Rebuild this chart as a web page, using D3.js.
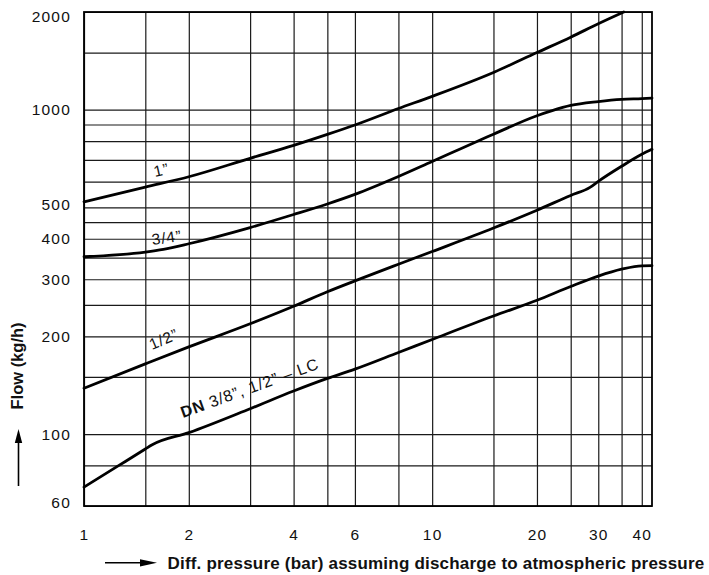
<!DOCTYPE html>
<html>
<head>
<meta charset="utf-8">
<script src="https://cdn.jsdelivr.net/npm/d3@7/dist/d3.min.js"></script>
<style>
  html, body { margin: 0; padding: 0; background: #fff; }
  svg { display: block; }
  text { font-family: "Liberation Sans", Arial, Helvetica, sans-serif; fill: #111; }
</style>
</head>
<body>
<svg id="chart" width="709" height="575"></svg>
<script>
// ---------- data ----------
const xGridValues = [1, 1.5, 2, 3, 4, 5, 6, 8, 10, 15, 20, 25, 30, 35, 40];
const xTickLabels = [1, 2, 4, 6, 10, 20, 30, 40];
const yGridValues = [60, 80, 100, 150, 200, 250, 300, 350, 400, 450, 500, 600, 700, 800, 900, 1000, 1500, 2000];
const yTickLabels = [2000, 1000, 500, 400, 300, 200, 100, 60];

const xDomain = [1, 42.8];
const yDomain = [60, 2000];

// Diff. pressure (bar) -> Flow (kg/h)
const pressure1in  = [1, 1.5, 2, 3, 4, 5, 6, 8, 10, 15, 20, 25, 30, 35.5];
const flow1in      = [520, 577, 621, 708, 776, 839, 897, 1008, 1099, 1302, 1500, 1673, 1840, 2000];

const pressure34in = [1, 1.5, 1.69, 2, 3, 4, 5, 6, 8, 10, 15, 20, 22, 25, 30, 35, 40, 42.8];
const flow34in     = [352, 364, 371, 386, 433, 475, 512, 548, 622, 692, 840, 958, 991, 1030, 1059, 1076, 1082, 1086];

const pressure12in = [1, 1.5, 2, 3, 4, 5, 6, 8, 10, 15, 20, 25, 28.4, 30, 35, 40, 42.8];
const flow12in     = [138.4, 164.5, 185.6, 218.7, 247.7, 274.5, 296.5, 333.7, 365.3, 431.6, 489.8, 544, 576, 601, 669, 728.5, 754.5];

const pressureDN   = [1, 1.25, 1.5, 1.565, 2, 3, 4, 5, 6, 8, 10, 15, 20, 25, 30, 35, 40, 42.8];
const flowDN       = [68.6, 79.6, 89.9, 92.5, 101, 119.7, 135.7, 148.4, 158.5, 178.4, 195.7, 231.1, 258.5, 285, 306.8, 322.2, 330.1, 330.3];

const seriesNames  = ["1”", "3/4”", "1/2”", "DN 3/8”, 1/2” – LC"];
// label anchors in data units (pressure, flow)
const labelPressure = [1.60, 1.573, 1.568, 1.924];
const labelFlow     = [620, 382.6, 181.5, 112.0];

// ---------- layout ----------
const svg = d3.select("#chart");
const margin = { left: 84, right: 57, top: 12, bottom: 69 };
const W = 709, H = 575;
const iw = W - margin.left - margin.right;
const ih = H - margin.top - margin.bottom;

const x = d3.scaleLog().domain(xDomain).range([margin.left, margin.left + iw]);
const y = d3.scaleLog().domain(yDomain).range([margin.top + ih, margin.top]);

// grid via axes
const gx = svg.append("g")
  .attr("transform", `translate(0,${margin.top + ih})`)
  .call(d3.axisBottom(x)
    .tickValues(xGridValues)
    .tickSize(-ih)
    .tickPadding(23)
    .tickFormat(d => xTickLabels.includes(d) ? String(d) : ""));
gx.select(".domain").remove();
gx.selectAll(".tick line").attr("stroke", "#1a1a1a").attr("stroke-width", 1.2);
gx.selectAll(".tick text")
  .attr("font-size", 15.5).attr("letter-spacing", "1.2px")
  .attr("font-family", "'Liberation Sans', Arial, sans-serif").attr("fill", "#111");

const gy = svg.append("g")
  .attr("transform", `translate(${margin.left},0)`)
  .call(d3.axisLeft(y)
    .tickValues(yGridValues)
    .tickSize(-iw)
    .tickPadding(13)
    .tickFormat(d => yTickLabels.includes(d) ? String(d) : ""));
gy.select(".domain").remove();
gy.selectAll(".tick line").attr("stroke", "#1a1a1a").attr("stroke-width", 1.2);
gy.selectAll(".tick text")
  .attr("font-size", 15.5).attr("letter-spacing", "1.2px")
  .attr("font-family", "'Liberation Sans', Arial, sans-serif").attr("fill", "#111")
  .attr("y", d => d === yDomain[1] ? 5 : (d === yDomain[0] ? -3 : (d === 500 ? -3 : 0)));

// frame
svg.append("rect")
  .attr("x", margin.left).attr("y", margin.top)
  .attr("width", iw).attr("height", ih)
  .attr("fill", "none").attr("stroke", "#000").attr("stroke-width", 1.8);

// curves
const series = [
  { p: pressure1in,  f: flow1in },
  { p: pressure34in, f: flow34in },
  { p: pressure12in, f: flow12in },
  { p: pressureDN,   f: flowDN }
];
const line = d3.line()
  .x(d => x(d[0])).y(d => y(d[1]))
  .curve(d3.curveMonotoneX);

svg.append("g").selectAll("path")
  .data(series)
  .join("path")
  .attr("d", s => line(s.p.map((p, i) => [p, s.f[i]])))
  .attr("fill", "none")
  .attr("stroke", "#000")
  .attr("stroke-width", 2.8)
  .attr("stroke-linejoin", "round")
  .attr("stroke-linecap", "round");

// curve labels
const labelAngles = [-13, -8, -23, -20];
const labelSizes = [15.5, 15.5, 15.5, 16];
seriesNames.forEach((name, i) => {
  const t = svg.append("text")
    .attr("transform", `translate(${x(labelPressure[i])},${y(labelFlow[i])}) rotate(${labelAngles[i]})`)
    .attr("font-size", labelSizes[i])
    .attr("letter-spacing", "0.9px");
  if (name.startsWith("DN")) {
    t.append("tspan").attr("font-weight", "bold").text("DN");
    t.append("tspan").text(name.slice(2));
  } else {
    t.text(name);
  }
});

// y-axis title + arrow
svg.append("text")
  .attr("transform", "translate(23,366) rotate(-90)")
  .attr("text-anchor", "middle")
  .attr("font-size", 16.5)
  .attr("font-weight", "bold")
  .text("Flow (kg/h)");
svg.append("line")
  .attr("x1", 18.5).attr("y1", 486).attr("x2", 18.5).attr("y2", 440)
  .attr("stroke", "#000").attr("stroke-width", 1.6);
svg.append("path")
  .attr("d", "M18.5,429 L14.8,443 L22.2,443 Z")
  .attr("fill", "#000");

// x-axis title + arrow
svg.append("line")
  .attr("x1", 105).attr("y1", 562.8).attr("x2", 145).attr("y2", 562.8)
  .attr("stroke", "#000").attr("stroke-width", 1.6);
svg.append("path")
  .attr("d", "M157,562.8 L140,559.2 L140,566.4 Z")
  .attr("fill", "#000");
svg.append("text")
  .attr("x", 167.5).attr("y", 569.3)
  .attr("font-size", 17)
  .attr("font-weight", "bold")
  .attr("letter-spacing", "0.2px")
  .text("Diff. pressure (bar) assuming discharge to atmospheric pressure");
</script>
</body>
</html>
